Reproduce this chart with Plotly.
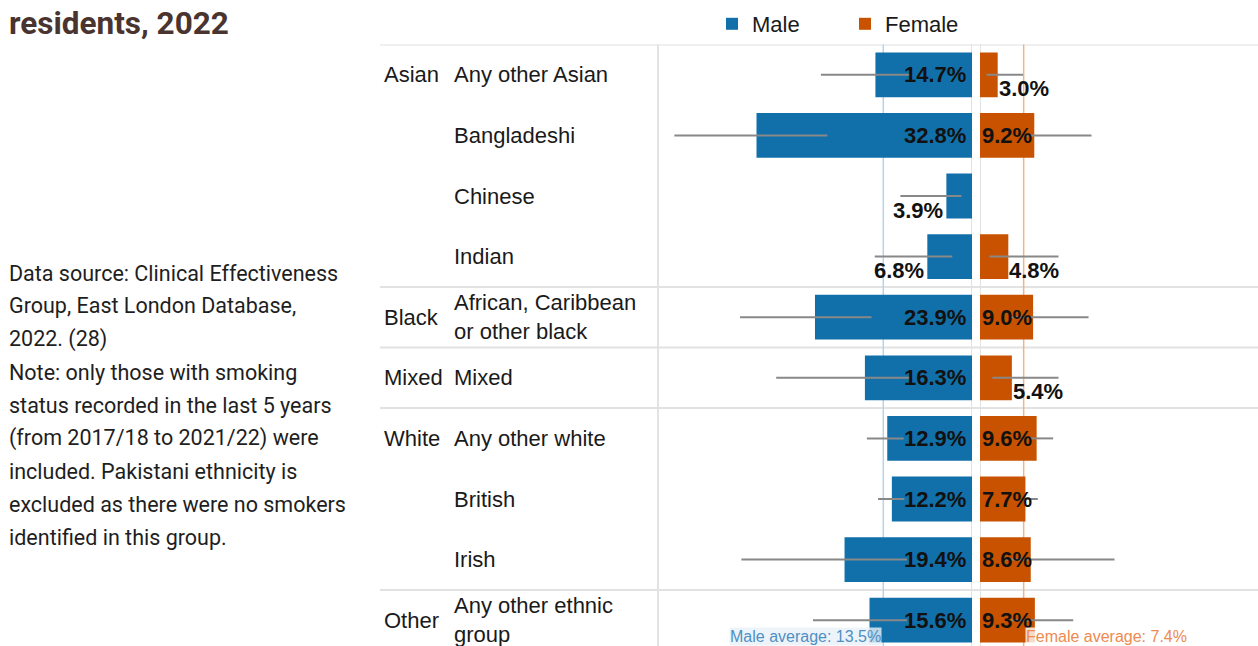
import plotly.graph_objects as go

# ---- data -------------------------------------------------------------
groups = ["Asian", "Asian", "Asian", "Asian", "Black", "Mixed",
          "White", "White", "White", "Other"]
ethnicities = ["Any other Asian", "Bangladeshi", "Chinese", "Indian",
               "African, Caribbean<br>or other black", "Mixed",
               "Any other white", "British", "Irish",
               "Any other ethnic<br>group"]
male_pct = [14.7, 32.8, 3.9, 6.8, 23.9, 16.3, 12.9, 12.2, 19.4, 15.6]
male_low = [9.4, 22.0, 1.6, 3.0, 15.3, 9.4, 10.4, 10.3, 9.9, 9.9]
male_high = [23.0, 45.3, 10.9, 14.8, 35.3, 29.8, 16.0, 14.3, 35.1, 24.2]
female_pct = [3.0, 9.2, None, 4.8, 9.0, 5.4, 9.6, 7.7, 8.6, 9.3]
female_low = [1.1, 7.6, None, 1.6, 5.1, 2.1, 8.2, 7.6, 4.3, 5.3]
female_high = [7.3, 18.9, None, 13.3, 18.4, 13.3, 12.4, 9.8, 22.8, 15.8]
male_avg = 13.5
female_avg = 7.4

title_text = "residents, 2022"
note_lines = [
    "Data source: Clinical Effectiveness",
    "Group, East London Database,",
    "2022. (28)",
    "Note: only those with smoking",
    "status recorded in the last 5 years",
    "(from 2017/18 to 2021/22) were",
    "included. Pakistani ethnicity is",
    "excluded as there were no smokers",
    "identified in this group.",
]

# ---- styling ----------------------------------------------------------
W, H = 1258, 646
MALE_C = "#1170aa"
FEMALE_C = "#c85200"
ERR_C = "#888888"
RULE_C = "#e2e2e2"
CHART_FONT = "Liberation Sans, Arial, sans-serif"

def px_x(p):
    return p / W

def px_y(p):
    return 1 - p / H

TOP = 44.5          # top rule of the table (px)
ROW = 60.6          # row pitch (px)
y_bottom_val = -0.5 + (H - TOP) / ROW

male_left, male_right = 660, 972
fem_left, fem_right = 980, W
male_range = (male_right - male_left) / 6.57
fem_range = (fem_right - fem_left) / 5.9

def err(vals, lo, hi):
    plus = [None if v is None else h - v for v, h in zip(vals, hi)]
    minus = [None if v is None else v - l for v, l in zip(vals, lo)]
    return plus, minus

mp, mm = err(male_pct, male_low, male_high)
fp, fm = err(female_pct, female_low, female_high)

fig = go.Figure()
fig.add_trace(go.Bar(
    name="Male", orientation="h", y=ethnicities, x=male_pct,
    xaxis="x", yaxis="y", width=0.74, marker_color=MALE_C,
    marker_line_width=0, hoverinfo="skip",
    error_x=dict(type="data", symmetric=False, array=mp, arrayminus=mm,
                 color=ERR_C, thickness=2, width=0),
))
fig.add_trace(go.Bar(
    name="Female", orientation="h", y=ethnicities, x=female_pct,
    xaxis="x2", yaxis="y", width=0.74, marker_color=FEMALE_C,
    marker_line_width=0, hoverinfo="skip",
    error_x=dict(type="data", symmetric=False, array=fp, arrayminus=fm,
                 color=ERR_C, thickness=2, width=0),
))

annotations = []
shapes = []
label_font = dict(size=22, color="#111", family=CHART_FONT)

# value labels: inside the bar when it is long enough, otherwise just past its end
for cat, v in zip(ethnicities, male_pct):
    if v >= 10:
        annotations.append(dict(x=0, y=cat, xref="x", yref="y", xanchor="right",
                                yanchor="middle", xshift=-4, showarrow=False,
                                text=f"<b>{v:.1f}%</b>", font=label_font))
    else:
        annotations.append(dict(x=v, y=cat, xref="x", yref="y", xanchor="right",
                                yanchor="middle", xshift=-1, yshift=-14, showarrow=False,
                                text=f"<b>{v:.1f}%</b>", font=label_font))
for cat, v in zip(ethnicities, female_pct):
    if v is None:
        continue
    if v >= 7:
        annotations.append(dict(x=0, y=cat, xref="x2", yref="y", xanchor="left",
                                yanchor="middle", xshift=0, showarrow=False,
                                text=f"<b>{v:.1f}%</b>", font=label_font))
    else:
        annotations.append(dict(x=v, y=cat, xref="x2", yref="y", xanchor="left",
                                yanchor="middle", xshift=-1, yshift=-14, showarrow=False,
                                text=f"<b>{v:.1f}%</b>", font=label_font))

# row labels and group rules
row_font = dict(size=22, color="#1a1a1a", family=CHART_FONT)
prev = None
for i, (g, cat) in enumerate(zip(groups, ethnicities)):
    annotations.append(dict(x=px_x(452), y=cat, xref="paper", yref="y",
                            xanchor="left", yanchor="middle", align="left",
                            showarrow=False, text=cat, font=row_font))
    if g != prev:
        annotations.append(dict(x=px_x(382), y=cat, xref="paper", yref="y",
                                xanchor="left", yanchor="middle", showarrow=False,
                                text=g, font=row_font))
        shapes.append(dict(type="line", xref="paper", yref="y",
                           x0=px_x(380), x1=1, y0=i - 0.5, y1=i - 0.5,
                           line=dict(color=RULE_C, width=2), layer="below"))
    prev = g

# column separators
shapes.append(dict(type="line", xref="paper", yref="paper", x0=px_x(658), x1=px_x(658),
                   y0=0, y1=px_y(TOP), line=dict(color=RULE_C, width=2), layer="below"))
shapes.append(dict(type="line", xref="x", yref="paper", x0=0, x1=0,
                   y0=0, y1=px_y(TOP), line=dict(color=RULE_C, width=2), layer="below"))
shapes.append(dict(type="line", xref="x2", yref="paper", x0=0, x1=0,
                   y0=0, y1=px_y(TOP), line=dict(color=RULE_C, width=2), layer="below"))

# average reference lines
shapes.append(dict(type="line", xref="x", yref="paper", x0=male_avg, x1=male_avg,
                   y0=0, y1=px_y(TOP), line=dict(color="#b7d3ea", width=1.5), layer="below"))
shapes.append(dict(type="line", xref="x2", yref="paper", x0=female_avg, x1=female_avg,
                   y0=0, y1=px_y(TOP), line=dict(color="#f3b28d", width=1.5), layer="below"))
annotations.append(dict(x=male_avg, y=0, xref="x", yref="paper",
                        xanchor="right", yanchor="bottom", xshift=-1, showarrow=False,
                        text=f"Male average: {male_avg}%", bgcolor="rgba(233,241,248,0.8)",
                        borderpad=0,
                        font=dict(size=16, color="#4f8fc4", family=CHART_FONT)))
annotations.append(dict(x=female_avg, y=0, xref="x2", yref="paper",
                        xanchor="left", yanchor="bottom", xshift=1, showarrow=False,
                        text=f"Female average: {female_avg}%", bgcolor="rgba(255,255,255,0.8)",
                        borderpad=0,
                        font=dict(size=16, color="#ee8a4f", family=CHART_FONT)))

# heading and notes on the left
annotations.append(dict(x=px_x(7), y=px_y(24), xref="paper", yref="paper",
                        xanchor="left", yanchor="middle", showarrow=False,
                        text=f"<b>{title_text}</b>",
                        font=dict(size=31.5, color="#4a3430", family="Roboto")))
for i, line in enumerate(note_lines):
    annotations.append(dict(x=px_x(7), y=px_y(273 + 33 * i), xref="paper", yref="paper",
                            xanchor="left", yanchor="middle", showarrow=False,
                            text=line,
                            font=dict(size=21.5, color="#1e1e1e", family="Roboto")))

fig.update_layout(
    width=W, height=H,
    margin=dict(l=0, r=0, t=0, b=0),
    paper_bgcolor="white", plot_bgcolor="rgba(0,0,0,0)",
    barmode="overlay",
    showlegend=True,
    legend=dict(orientation="h", x=px_x(712), y=px_y(24), xanchor="left",
                yanchor="middle", font=dict(size=22, color="#1a1a1a", family=CHART_FONT),
                entrywidth=88, entrywidthmode="pixels", bgcolor="rgba(0,0,0,0)"),
    xaxis=dict(domain=[px_x(male_left), px_x(male_right)], range=[male_range, 0],
               showticklabels=False, showgrid=False, zeroline=False, ticks="",
               showline=False, fixedrange=True),
    xaxis2=dict(domain=[px_x(fem_left), 1], range=[0, fem_range],
                showticklabels=False, showgrid=False, zeroline=False, ticks="",
                showline=False, fixedrange=True, anchor="y"),
    yaxis=dict(domain=[0, px_y(TOP)], type="category",
               categoryorder="array", categoryarray=ethnicities,
               range=[y_bottom_val, -0.5], showticklabels=False, showgrid=False,
               zeroline=False, ticks="", showline=False, fixedrange=True),
    annotations=annotations,
    shapes=shapes,
)

fig.write_html("out.html")
